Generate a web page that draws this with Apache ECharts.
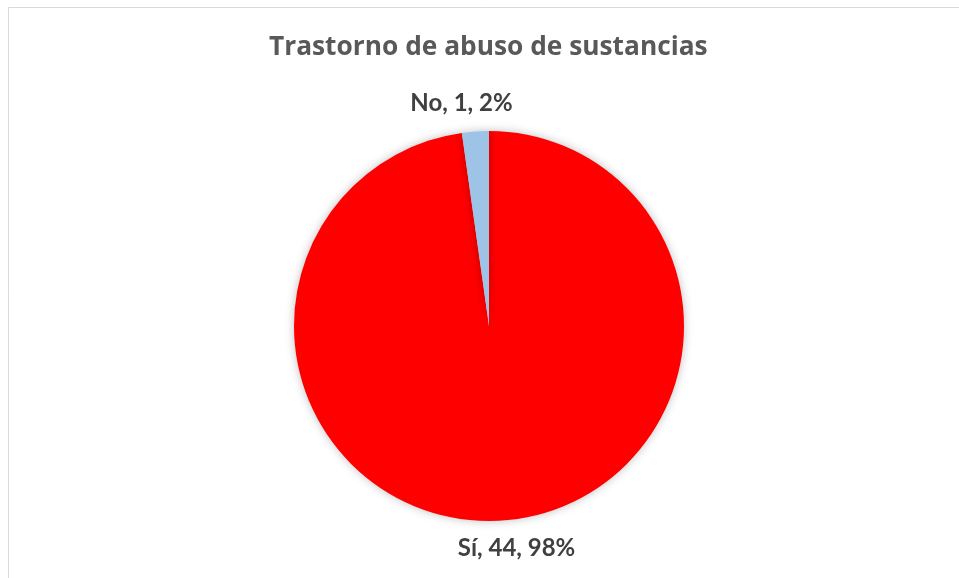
<!DOCTYPE html>
<html>
<head>
<meta charset="utf-8">
<script src="https://cdn.jsdelivr.net/npm/echarts@6/dist/echarts.min.js"></script>
<style>
html,body{margin:0;padding:0;background:#fff;}
#chart{width:959px;height:578px;}
</style>
</head>
<body>
<div id="chart"></div>
<script>
const titleText = 'Trastorno de abuso de sustancias';
const categories = ['Sí', 'No'];
const values = [44, 1];
const percents = ['98%', '2%'];
const colors = ['#FF0000', '#9DC3E6'];

const chart = echarts.init(document.getElementById('chart'), null, {renderer: 'canvas'});
const option = {
  backgroundColor: '#ffffff',
  animation: false,
  title: {
    text: titleText,
    left: 269,
    top: 35,
    padding: 0,
    textStyle: {fontFamily: 'Open Sans', fontWeight: 'bold', fontSize: 26.3, color: '#595959'}
  },
  graphic: [
    {type: 'line', shape: {x1: 8.5, y1: 7.5, x2: 959, y2: 7.5}, style: {stroke: '#D9D9D9', lineWidth: 1}, silent: true},
    {type: 'line', shape: {x1: 8.5, y1: 7.5, x2: 8.5, y2: 578}, style: {stroke: '#D9D9D9', lineWidth: 1}, silent: true}
  ],
  series: [{
    type: 'pie',
    center: [489, 326],
    radius: [0, 195],
    startAngle: 90,
    clockwise: true,
    data: categories.map((c, i) => ({name: c, value: values[i], itemStyle: {color: colors[i]}})),
    itemStyle: {borderWidth: 0, shadowBlur: 10, shadowColor: 'rgba(0,0,0,0.25)'},
    label: {
      show: true,
      position: 'outside',
      formatter: (p) => p.name + ', ' + p.value + ', ' + percents[p.dataIndex],
      fontFamily: 'Lato',
      fontWeight: 'bold',
      fontSize: 24,
      color: '#404040'
    },
    labelLine: {show: true, length: 28, length2: 0, lineStyle: {color: 'rgba(0,0,0,0)', width: 0}},
    labelLayout: function (p) {
      const pts = p.labelLinePoints;
      if (!pts) return {};
      const sx = pts[1][0] - pts[0][0] >= 0 ? 1 : -1;
      return {x: pts[1][0] + sx * 12, y: pts[1][1], align: 'center', verticalAlign: 'middle'};
    }
  }]
};
chart.setOption(option);
</script>
</body>
</html>
